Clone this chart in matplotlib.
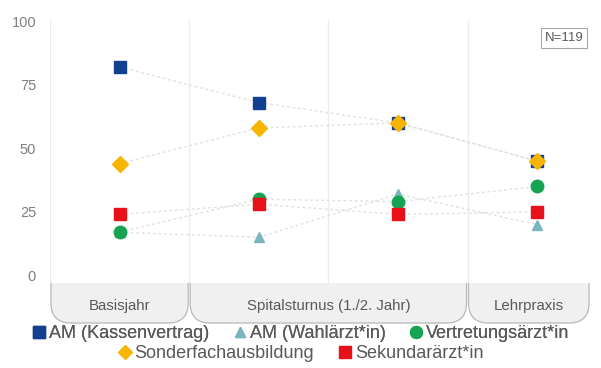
import matplotlib.pyplot as plt
from matplotlib.path import Path
from matplotlib.patches import PathPatch
from matplotlib.lines import Line2D

plt.rcParams['font.family'] = ['Liberation Sans', 'DejaVu Sans']

# data
stages = ["Basisjahr", "Spital 1", "Spital 2", "Lehrpraxis"]
groups = ["Basisjahr", "Spitalsturnus (1./2. Jahr)", "Lehrpraxis"]
group_span = [(0, 0), (1, 2), (3, 3)]

series_names = ["AM (Kassenvertrag)", "AM (Wahlärzt*in)", "Vertretungsärzt*in",
                "Sonderfachausbildung", "Sekundarärzt*in"]
am_kasse = [82, 68, 60, 45]
am_wahl = [17, 15, 32, 20]
vertretung = [17, 30, 29, 35]
sonderfach = [44, 58, 60, 45]
sekundar = [24, 28, 24, 25]
n_label = "N=119"

colors = ["#123f8f", "#7ab5bf", "#16a352", "#f7b500", "#e8111a"]
markers = ["s", "^", "o", "D", "s"]
sizes = [9, 7, 9, 8, 9]
values = [am_kasse, am_wahl, vertretung, sonderfach, sekundar]

fig = plt.figure(figsize=(6.01, 3.68), dpi=100)
W, H = 601, 368
ax = fig.add_axes([50 / W, 1 - 283 / H, 540 / W, 263 / H])
x = list(range(len(stages)))

# faint connecting lines first
for vals in values:
    ax.plot(x, vals, color="#e0e0e0", lw=1, ls=(0, (2, 2)), zorder=1)
# draw order: wahl, vertretung, kasse, sonderfach, sekundar
for i in [1, 2, 0, 3, 4]:
    ax.plot(x, values[i], ls="none", marker=markers[i], ms=sizes[i],
            color=colors[i], mec=colors[i], zorder=3)

ax.set_xlim(-0.5, 3.38)
ax.set_ylim(-3, 100.5)
ax.set_yticks([0, 25, 50, 75, 100])
ax.tick_params(axis="y", length=0, labelsize=10.5, labelcolor="#7f7f7f", pad=10)
ax.set_xticks([])
for s in ax.spines.values():
    s.set_visible(False)
for b in [-0.5, 0.5, 1.5, 2.5]:
    ax.axvline(b, color="#ececec", lw=1, zorder=0)

ax.text(0.988, 0.955, n_label, transform=ax.transAxes, ha="right", va="top",
        fontsize=9.5, color="#595959",
        bbox=dict(boxstyle="square,pad=0.3", fc="white", ec="#a6a6a6", lw=0.8))

# tab strip below the plot, in pixel coordinates
ov = fig.add_axes([0, 0, 1, 1], zorder=-1)
ov.set_xlim(0, W)
ov.set_ylim(0, H)
ov.axis("off")
fig.canvas.draw()
yt, yb, r = H - 283, H - 323, 20
for label, (a, b) in zip(groups, group_span):
    x0 = ax.transData.transform((a - 0.5, 0))[0] + 1
    x1 = min(ax.transData.transform((b + 0.5, 0))[0], 590) - 1
    verts = [(x0, yt), (x0, yb + r), (x0, yb), (x0 + r, yb),
             (x1 - r, yb), (x1, yb), (x1, yb + r), (x1, yt)]
    codes = [Path.MOVETO, Path.LINETO, Path.CURVE3, Path.CURVE3,
             Path.LINETO, Path.CURVE3, Path.CURVE3, Path.LINETO]
    ov.add_patch(PathPatch(Path(verts, codes), fc="#f0f0f0", ec="#b8b8b8", lw=0.9))
    ov.text((x0 + x1) / 2, (yt + yb) / 2 - 3, label, ha="center", va="center",
            fontsize=10.8, color="#595959")

def handle(i):
    return Line2D([], [], ls="none", marker=markers[i], ms=sizes[i] * 0.95,
                  color=colors[i])

kw = dict(loc="center", frameon=False, fontsize=13, handlelength=0.8,
          handletextpad=0.15, columnspacing=1.3, labelcolor="#595959",
          borderpad=0)
leg1 = fig.legend([handle(i) for i in range(3)], series_names[:3],
                  bbox_to_anchor=(0.5, 1 - 334 / H), ncol=3, **kw)
fig.legend([handle(i) for i in range(3, 5)], series_names[3:],
           bbox_to_anchor=(0.5, 1 - 354 / H), ncol=2, **kw)
fig.add_artist(leg1)

fig.savefig("out.png", dpi=100)
